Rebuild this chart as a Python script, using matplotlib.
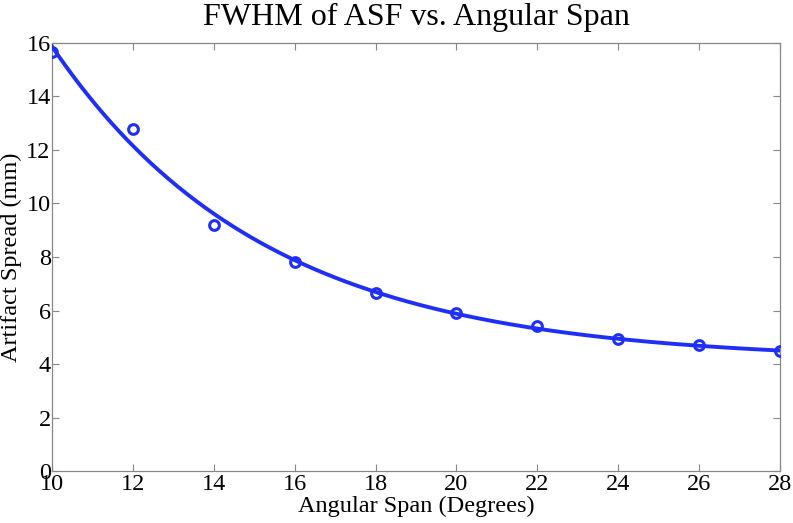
import numpy as np
import matplotlib
matplotlib.use("Agg")
import matplotlib.pyplot as plt

# Data
angular_span = np.array([10, 12, 14, 16, 18, 20, 22, 24, 26, 28], dtype=float)
artifact_spread = np.array([15.66, 12.78, 9.2, 7.81, 6.65, 5.9, 5.42, 4.93, 4.71, 4.49])
x_ticks = [10, 12, 14, 16, 18, 20, 22, 24, 26, 28]
y_ticks = [0, 2, 4, 6, 8, 10, 12, 14, 16]

# Least-squares fit y = c + a*exp(-b*(x-10)) to the data
t = angular_span - 10
best = None
for b in np.linspace(0.01, 1.0, 2000):
    A = np.column_stack([np.exp(-b * t), np.ones_like(t)])
    coef, res, *_ = np.linalg.lstsq(A, artifact_spread, rcond=None)
    err = np.sum((A @ coef - artifact_spread) ** 2)
    if best is None or err < best[0]:
        best = (err, b, coef)
_, b_fit, (a_fit, c_fit) = best
xs = np.linspace(10, 28, 400)
ys = c_fit + a_fit * np.exp(-b_fit * (xs - 10))

plt.rcParams['font.family'] = ['Liberation Serif', 'DejaVu Serif']

fig = plt.figure(figsize=(7.93, 5.23), dpi=100)
ax = fig.add_axes([0.0656, 0.0994, 0.918, 0.8184])

blue = '#1f2ff5'
ax.plot(xs, ys, color=blue, lw=2.8, zorder=3)
ax.plot(angular_span, artifact_spread, 'o', mfc='none', mec=blue, mew=2.2, ms=7, zorder=4)

ax.set_xlim(10, 28)
ax.set_ylim(0, 16)
ax.set_xticks(x_ticks)
ax.set_yticks(y_ticks)
ax.tick_params(direction='in', length=5, width=0.8, color='#888888', labelsize=17.5,
               top=True, right=True)
ax.tick_params(axis='x', pad=2)
ax.tick_params(axis='y', pad=1)
for s in ax.spines.values():
    s.set_color('#888888')
    s.set_linewidth(0.9)

ax.set_title('FWHM of ASF vs. Angular Span', fontsize=23, pad=13)
ax.set_xlabel('Angular Span (Degrees)', fontsize=17.5, labelpad=1)
ax.set_ylabel('Artifact Spread (mm)', fontsize=17.5, labelpad=3)

fig.savefig('out.png', dpi=100)
